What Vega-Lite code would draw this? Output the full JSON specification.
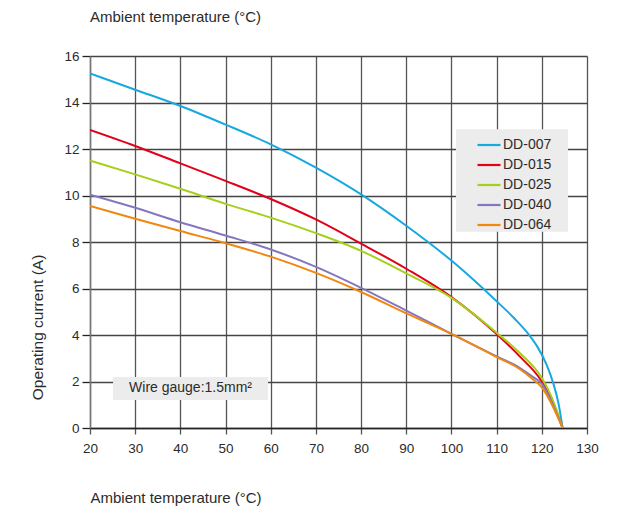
{
  "$schema": "https://vega.github.io/schema/vega-lite/v6.json",
  "width": 497,
  "height": 372,
  "autosize": "none",
  "padding": {"left": 90, "top": 56, "right": 39, "bottom": 80},
  "background": "white",
  "config": {
    "font": "Liberation Sans",
    "view": {"stroke": null},
    "axis": {"labelFont": "Liberation Sans", "titleFont": "Liberation Sans", "labelColor": "#2b2b2b", "titleColor": "#2b2b2b", "titleFontWeight": "normal"},
    "legend": {"labelFont": "Liberation Sans"},
    "title": {"font": "Liberation Sans", "fontWeight": "normal", "color": "#2b2b2b"}
  },
  "title": {"text": "Ambient temperature (°C)", "anchor": "start", "frame": "group", "fontSize": 15, "offset": 24},
  "encoding": {
    "x": {
      "field": "t", "type": "quantitative",
      "scale": {"domain": [20, 130], "nice": false, "zero": false},
      "axis": {
        "orient": "bottom", "values": [20, 30, 40, 50, 60, 70, 80, 90, 100, 110, 120, 130],
        "grid": true, "gridColor": "#555555", "gridWidth": 1.3,
        "domainColor": "#222222", "domainWidth": 1.3,
        "tickColor": "#555555", "tickSize": 6, "tickWidth": 1.3,
        "labelFontSize": 13.5, "labelPadding": 7, "labelFlush": false,
        "title": "Ambient temperature (°C)", "titleFontSize": 15,
        "titleAnchor": "start", "titleAlign": "left", "titleBaseline": "middle",
        "titleX": 0, "titleY": 69
      }
    },
    "y": {
      "field": "a", "type": "quantitative",
      "scale": {"domain": [0, 16], "nice": false},
      "axis": {
        "values": [0, 2, 4, 6, 8, 10, 12, 14, 16],
        "grid": true, "gridColor": "#444444", "gridWidth": 1.3,
        "domainColor": "#777777", "domainWidth": 1.5,
        "tickColor": "#222222", "tickSize": 8, "tickWidth": 1.3,
        "labelFontSize": 13.5, "labelPadding": 3, "labelFlush": false,
        "title": "Operating current (A)", "titleFontSize": 15.5,
        "titleAngle": 270, "titleAlign": "center", "titleBaseline": "middle",
        "titleX": -53, "titleY": 271
      }
    }
  },
  "layer": [
    {
      "data": {"values": [
        {"t": 25.1, "t2": 59.4, "a": 1.2, "a2": 2.19},
        {"t": 101, "t2": 125.8, "a": 8.44, "a2": 12.85}
      ]},
      "mark": {"type": "rect", "fill": "#ececec"},
      "encoding": {
        "x2": {"field": "t2"},
        "y2": {"field": "a2"}
      }
    },
    {
      "data": {"values": [{"t": 42.25, "a": 1.7, "label": "Wire gauge:1.5mm²"}]},
      "mark": {"type": "text", "fontSize": 14, "color": "#2b2b2b", "align": "center", "baseline": "middle"},
      "encoding": {
        "text": {"field": "label"}
      }
    },
    {
      "data": {"values": [
        {"series": "DD-007", "t": 20, "a": 15.25},
        {"series": "DD-007", "t": 30, "a": 14.55},
        {"series": "DD-007", "t": 40, "a": 13.85},
        {"series": "DD-007", "t": 50, "a": 13.05},
        {"series": "DD-007", "t": 60, "a": 12.2},
        {"series": "DD-007", "t": 70, "a": 11.2},
        {"series": "DD-007", "t": 80, "a": 10.05},
        {"series": "DD-007", "t": 90, "a": 8.7},
        {"series": "DD-007", "t": 100, "a": 7.2},
        {"series": "DD-007", "t": 110, "a": 5.45},
        {"series": "DD-007", "t": 114, "a": 4.7},
        {"series": "DD-007", "t": 117, "a": 4.05},
        {"series": "DD-007", "t": 119, "a": 3.5},
        {"series": "DD-007", "t": 121, "a": 2.75},
        {"series": "DD-007", "t": 122.5, "a": 1.95},
        {"series": "DD-007", "t": 123.7, "a": 1.05},
        {"series": "DD-007", "t": 124.6, "a": 0},
        {"series": "DD-015", "t": 20, "a": 12.82},
        {"series": "DD-015", "t": 30, "a": 12.13},
        {"series": "DD-015", "t": 40, "a": 11.38},
        {"series": "DD-015", "t": 50, "a": 10.63},
        {"series": "DD-015", "t": 60, "a": 9.85},
        {"series": "DD-015", "t": 70, "a": 8.97},
        {"series": "DD-015", "t": 80, "a": 7.93},
        {"series": "DD-015", "t": 90, "a": 6.85},
        {"series": "DD-015", "t": 100, "a": 5.63},
        {"series": "DD-015", "t": 110, "a": 4.04},
        {"series": "DD-015", "t": 115, "a": 3.1},
        {"series": "DD-015", "t": 120, "a": 2.0},
        {"series": "DD-015", "t": 122, "a": 1.3},
        {"series": "DD-015", "t": 124.6, "a": 0},
        {"series": "DD-025", "t": 20, "a": 11.5},
        {"series": "DD-025", "t": 30, "a": 10.91},
        {"series": "DD-025", "t": 40, "a": 10.29},
        {"series": "DD-025", "t": 50, "a": 9.64},
        {"series": "DD-025", "t": 60, "a": 9.05},
        {"series": "DD-025", "t": 70, "a": 8.38},
        {"series": "DD-025", "t": 80, "a": 7.62},
        {"series": "DD-025", "t": 90, "a": 6.65},
        {"series": "DD-025", "t": 100, "a": 5.6},
        {"series": "DD-025", "t": 110, "a": 4.1},
        {"series": "DD-025", "t": 115, "a": 3.25},
        {"series": "DD-025", "t": 120, "a": 2.15},
        {"series": "DD-025", "t": 122, "a": 1.4},
        {"series": "DD-025", "t": 124.6, "a": 0},
        {"series": "DD-040", "t": 20, "a": 10.03},
        {"series": "DD-040", "t": 30, "a": 9.47},
        {"series": "DD-040", "t": 40, "a": 8.85},
        {"series": "DD-040", "t": 50, "a": 8.28},
        {"series": "DD-040", "t": 60, "a": 7.68},
        {"series": "DD-040", "t": 70, "a": 6.93},
        {"series": "DD-040", "t": 80, "a": 6.03},
        {"series": "DD-040", "t": 90, "a": 5.05},
        {"series": "DD-040", "t": 100, "a": 4.05},
        {"series": "DD-040", "t": 110, "a": 3.08},
        {"series": "DD-040", "t": 115, "a": 2.6},
        {"series": "DD-040", "t": 118, "a": 2.2},
        {"series": "DD-040", "t": 120, "a": 1.9},
        {"series": "DD-040", "t": 122, "a": 1.2},
        {"series": "DD-040", "t": 124.6, "a": 0},
        {"series": "DD-064", "t": 20, "a": 9.55},
        {"series": "DD-064", "t": 30, "a": 9.0},
        {"series": "DD-064", "t": 40, "a": 8.47},
        {"series": "DD-064", "t": 50, "a": 7.95},
        {"series": "DD-064", "t": 60, "a": 7.37},
        {"series": "DD-064", "t": 70, "a": 6.67},
        {"series": "DD-064", "t": 80, "a": 5.85},
        {"series": "DD-064", "t": 90, "a": 4.93},
        {"series": "DD-064", "t": 100, "a": 4.05},
        {"series": "DD-064", "t": 110, "a": 3.05},
        {"series": "DD-064", "t": 115, "a": 2.55},
        {"series": "DD-064", "t": 118, "a": 2.1},
        {"series": "DD-064", "t": 120, "a": 1.75},
        {"series": "DD-064", "t": 122, "a": 1.1},
        {"series": "DD-064", "t": 124.6, "a": 0}
      ]},
      "mark": {"type": "line", "interpolate": "monotone", "strokeWidth": 2, "clip": true},
      "encoding": {
        "color": {
          "field": "series", "type": "nominal",
          "scale": {"domain": ["DD-007", "DD-015", "DD-025", "DD-040", "DD-064"], "range": ["#18a8e0", "#e2001a", "#a6cf1a", "#8477bf", "#f0870f"]},
          "legend": {
            "title": null, "orient": "none", "legendX": 386, "legendY": 76,
            "padding": 0, "symbolOffset": 0,
            "symbolType": "stroke", "symbolSize": 529, "symbolStrokeWidth": 2.2,
            "labelFontSize": 14, "labelColor": "#2b2b2b", "labelOffset": 1,
            "rowPadding": -3
          }
        }
      }
    }
  ]
}
